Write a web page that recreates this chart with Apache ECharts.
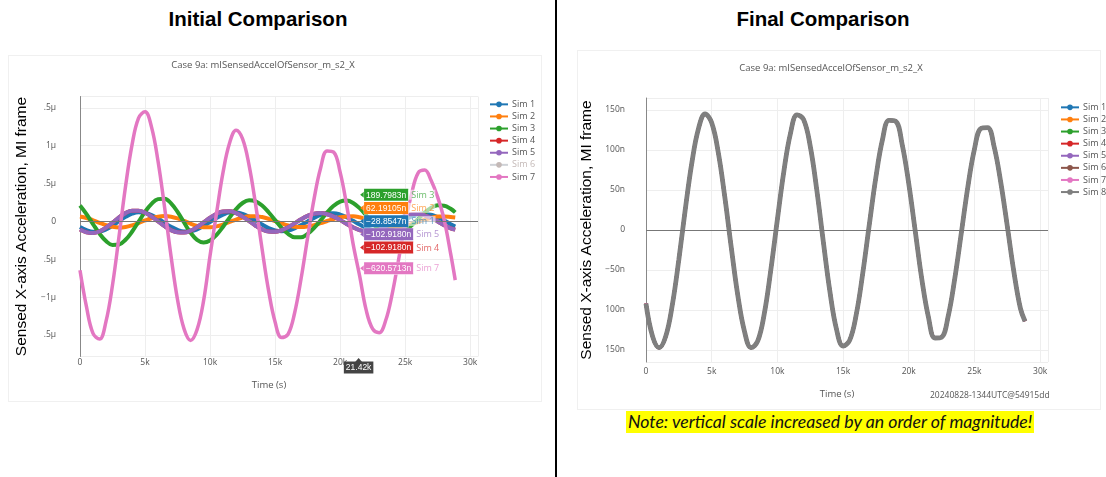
<!DOCTYPE html>
<html>
<head>
<meta charset="utf-8">
<title>Case 9a comparison</title>
<script src="https://cdn.jsdelivr.net/npm/echarts@6.0.0/dist/echarts.min.js"></script>
<style>
  body { margin: 0; background: #fff; }
  #page { position: relative; width: 1106px; height: 477px; overflow: hidden; }
  .head { position: absolute; top: 7px; width: 240px; text-align: center; color: #000;
          font: bold 20.5px "Liberation Sans", Arial, sans-serif; }
  #divider { position: absolute; left: 555px; top: 0; width: 2px; height: 477px; background: #000; }
  .card { position: absolute; border: 1px solid #f0f0f0; }
  #note { position: absolute; left: 626px; top: 411px; height: 22px; line-height: 22px; padding: 0 2px;
          background: #ffff00; color: #111; white-space: nowrap; font: italic 17.7px Lato, sans-serif; }
  .chart { position: absolute; top: 0; height: 477px; }
</style>
</head>
<body>
<div id="page">
  <div class="card" style="left:8px;top:55px;width:532px;height:345px"></div>
  <div class="card" style="left:577px;top:50px;width:522px;height:358px"></div>
  <div class="head" style="left:138px">Initial Comparison</div>
  <div class="head" style="left:703px">Final Comparison</div>
  <div id="divider"></div>
  <div id="note">Note: vertical scale increased by an order of magnitude!</div>
  <div id="initial" class="chart" style="left:0;width:556px"></div>
  <div id="final" class="chart" style="left:558px;width:548px"></div>
</div>
<script>
// time in s, accelerations in n (1e-9)
var times = [0, 500, 1000, 1500, 2000, 2500, 3000, 3500, 4000, 4500,
  5000, 5500, 6000, 6500, 7000, 7500, 8000, 8500, 9000, 9500,
  10000, 10500, 11000, 11500, 12000, 12500, 13000, 13500, 14000, 14500,
  15000, 15500, 16000, 16500, 17000, 17500, 18000, 18500, 19000, 19500,
  20000, 20500, 21000, 21500, 22000, 22500, 23000, 23500, 24000, 24500,
  25000, 25500, 26000, 26500, 27000, 27500, 28000, 28500, 28850];

var sim1Initial = [-75, -116, -138, -135, -106, -56, 3, 60, 102, 121,
  114, 84, 37, -18, -71, -112, -133, -131, -105, -61,
  -8, 46, 90, 116, 118, 99, 60, 11, -42, -88,
  -119, -130, -120, -91, -49, 0, 47, 85, 106, 108,
  90, 54, 7, -42, -85, -115, -125, -113, -79, -31,
  22, 67, 97, 105, 90, 57, 12, -37, -68];
var sim2Initial = [65, 45, 15, -19, -50, -72, -80, -73, -52, -22,
  12, 42, 63, 70, 62, 39, 6, -30, -59, -77,
  -79, -66, -41, -8, 24, 51, 67, 69, 57, 34,
  4, -27, -54, -71, -75, -67, -49, -23, 5, 32,
  54, 66, 67, 55, 32, 2, -28, -53, -68, -69,
  -57, -35, -5, 24, 48, 63, 64, 58, 52];
var sim3Initial = [210, 97, -35, -162, -260, -311, -305, -243, -137, -5,
  126, 232, 294, 300, 239, 125, -15, -149, -244, -278,
  -252, -178, -71, 50, 161, 243, 279, 265, 209, 121,
  17, -85, -165, -209, -209, -166, -86, 15, 118, 206,
  262, 275, 244, 175, 79, -24, -115, -178, -200, -181,
  -130, -53, 34, 116, 179, 212, 208, 166, 119];
var sim5Initial = [-108, -145, -154, -132, -82, -16, 53, 109, 141, 141,
  114, 64, 1, -63, -115, -145, -148, -123, -75, -14,
  48, 100, 130, 133, 109, 63, 4, -57, -106, -135,
  -138, -117, -78, -26, 28, 73, 103, 110, 95, 63,
  18, -33, -79, -115, -133, -131, -108, -67, -17, 32,
  72, 96, 98, 80, 44, -3, -51, -92, -109];
var sim4Initial = sim5Initial;   // same readout as Sim 5 at the hover, hidden under it
var sim6Initial = [];            // Sim 6 is switched off in the legend
var sim7Initial = [-645, -1130, -1480, -1555, -1320, -840, -200, 460, 1010, 1365,
  1448, 1245, 795, 190, -460, -1035, -1420, -1572, -1430, -1050,
  -450, 110, 650, 1035, 1205, 1090, 740, 225, -365, -915,
  -1330, -1535, -1490, -1210, -755, -215, 300, 705, 930, 915,
  650, 215, -300, -720, -1170, -1420, -1470, -1310, -960, -500,
  -30, 370, 640, 678, 540, 320, 20, -430, -776];

var simFinal = [-92, -133, -147, -133, -94, -37, 27, 85, 127, 145,
  134, 97, 41, -23, -83, -127, -147, -139, -105, -50,
  13, 74, 121, 144, 138, 105, 50, -15, -77, -124,
  -145, -138, -106, -54, 7, 66, 113, 137, 136, 107,
  58, -2, -62, -109, -135, -134, -108, -61, -4, 54,
  101, 127, 128, 104, 60, 5, -52, -98, -114];

var simNames = ['Sim 1', 'Sim 2', 'Sim 3', 'Sim 4', 'Sim 5', 'Sim 6', 'Sim 7', 'Sim 8'];
var simColors = ['#1f77b4', '#ff7f0e', '#2ca02c', '#d62728', '#9467bd', '#8c564b', '#e377c2', '#7f7f7f'];

var xTicks = [0, 5000, 10000, 15000, 20000, 25000, 30000];
var xTickText = ['0', '5k', '10k', '15k', '20k', '25k', '30k'];
var yTicksInitial = [1500, 1000, 500, 0, -500, -1000, -1500];
var yTextInitial = ['.5μ', '1μ', '.5μ', '0', '.5μ', '−1μ', '.5μ'];
var yTicksFinal = [150, 100, 50, 0, -50, -100, -150];
var yTextFinal = ['150n', '100n', '50n', '0', '−50n', '100n', '150n'];

var hoverTime = 21420;
var hoverNames = ['Sim 3', 'Sim 2', 'Sim 1', 'Sim 5', 'Sim 4', 'Sim 7'];
var hoverValues = [189.7983, 62.19105, -28.8547, -102.918, -102.918, -620.5713];
var hoverText = ['189.7983n', '62.19105n', '−28.8547n', '−102.9180n', '−102.9180n', '−620.5713n'];

var font = '"Open Sans", sans-serif';
var grey = '#555';

function pairs(vals) {
  return vals.map(function (v, i) { return [times[i], v]; });
}
function tickLabel(ticks, text) {
  return function (v) {
    var i = ticks.indexOf(v);
    return i < 0 ? '' : text[i];
  };
}
function colorOf(name) { return simColors[simNames.indexOf(name)]; }

function lineSeries(name, vals, width) {
  var c = colorOf(name);
  return {
    name: name, type: 'line', data: pairs(vals), smooth: 0.4,
    symbol: 'circle', symbolSize: 4, showSymbol: false, silent: true,
    itemStyle: { color: c }, lineStyle: { color: c, width: width }
  };
}
function zeroLine() {
  return {
    silent: true, symbol: 'none', label: { show: false },
    lineStyle: { color: '#777', width: 1, type: 'solid' }, data: [{ yAxis: 0 }]
  };
}

function chartOption(cfg) {
  return {
    animation: false,
    title: {
      text: 'Case 9a: mISensedAccelOfSensor_m_s2_X', left: cfg.titleX, top: cfg.titleY, textAlign: 'center',
      textStyle: { fontFamily: font, fontSize: 9.5, fontWeight: 'normal', color: grey }
    },
    grid: { left: cfg.grid[0], top: cfg.grid[1], width: cfg.grid[2], height: cfg.grid[3],
            containLabel: false, outerBoundsMode: 'none' },
    legend: {
      orient: 'vertical', left: cfg.legend[0], top: cfg.legend[1], padding: 0,
      itemWidth: 18, itemHeight: 7, itemGap: 0,
      data: cfg.legendNames, selected: cfg.selected || {}, inactiveColor: '#c4b9b7',
      textStyle: { fontFamily: font, fontSize: 9, color: grey, lineHeight: 12.1, padding: [0, 0, 0, -1] }
    },
    xAxis: {
      type: 'value', min: 0, max: 30600,
      name: 'Time (s)', nameLocation: 'middle', nameGap: cfg.xNameGap,
      nameTextStyle: { fontFamily: font, fontSize: 9.5, color: grey, padding: [0, 20, 0, 0] },
      axisLine: { show: false }, axisTick: { show: false },
      axisLabel: { formatter: tickLabel(xTicks, xTickText), fontFamily: font, fontSize: 8.5, color: grey, margin: cfg.xMargin },
      splitLine: { lineStyle: { color: '#eeeeee' } }
    },
    yAxis: {
      type: 'value', min: cfg.yRange[0], max: cfg.yRange[1],
      name: 'Sensed X-axis Acceleration, MI frame', nameLocation: 'middle', nameGap: cfg.yNameGap,
      nameTextStyle: { fontFamily: '"Liberation Sans", Arial, sans-serif', fontSize: 15.5, color: '#000' },
      axisLine: { show: true, lineStyle: { color: '#888' } }, axisTick: { show: false },
      axisLabel: { formatter: tickLabel(cfg.yTicks, cfg.yText), fontFamily: font, fontSize: 8.5, color: grey, margin: cfg.yMargin },
      splitLine: { lineStyle: { color: '#eeeeee' } }
    },
    series: cfg.series
  };
}

// ---- initial comparison ----
var initialSeries = [
  lineSeries('Sim 1', sim1Initial, 4),
  lineSeries('Sim 2', sim2Initial, 4),
  lineSeries('Sim 3', sim3Initial, 4),
  lineSeries('Sim 4', sim4Initial, 4),
  lineSeries('Sim 5', sim5Initial, 4),
  lineSeries('Sim 6', sim6Initial, 4),
  lineSeries('Sim 7', sim7Initial, 3.5)
];
initialSeries[0].markLine = zeroLine();
var yRangeInitial = [-1785, 1650];

var initialChart = echarts.init(document.getElementById('initial'));
initialChart.setOption(chartOption({
  titleX: 258, titleY: 55,
  grid: [80, 96.5, 398, 260],
  legend: [489, 98.3],
  legendNames: simNames.slice(0, 7),
  selected: { 'Sim 6': false },
  xNameGap: 24, xMargin: 2,
  yRange: yRangeInitial, yNameGap: 50, yMargin: 24,
  yTicks: yTicksInitial, yText: yTextInitial,
  series: initialSeries
}));

// hover labels at the cursor time, stacked the way plotly spreads them
var hx = initialChart.convertToPixel({ xAxisIndex: 0 }, hoverTime);
var gridBottom = initialChart.convertToPixel({ yAxisIndex: 0 }, yRangeInitial[0]);
var boxH = 13.2;
var groups = hoverValues.map(function (v, i) {
  var y = initialChart.convertToPixel({ yAxisIndex: 0 }, v);
  return { items: [{ i: i, y: y }], c: y };
});
var merged = true;
while (merged) {
  merged = false;
  for (var k = 0; k < groups.length - 1; k++) {
    var a = groups[k], b = groups[k + 1];
    if (a.c + a.items.length * boxH / 2 > b.c - b.items.length * boxH / 2) {
      var all = a.items.concat(b.items);
      var mean = all.reduce(function (s, it) { return s + it.y; }, 0) / all.length;
      groups.splice(k, 2, { items: all, c: mean });
      merged = true;
      break;
    }
  }
}
var hoverGraphic = [];
groups.forEach(function (g) {
  g.items.forEach(function (it, j) {
    var cy = g.c - (g.items.length - 1) * boxH / 2 + j * boxH;
    var col = colorOf(hoverNames[it.i]);
    hoverGraphic.push({
      type: 'polygon', silent: true, z: 100,
      shape: { points: [[hx + 1.5, cy], [hx + 6, cy - 3.5], [hx + 6, cy + 3.5]] },
      style: { fill: col }
    });
    hoverGraphic.push({
      type: 'text', x: hx + 5.5, y: cy, silent: true, z: 101,
      style: {
        text: '{v|' + hoverText[it.i] + '}{n|' + hoverNames[it.i] + '}',
        verticalAlign: 'middle',
        rich: {
          v: { fill: '#fff', backgroundColor: col, borderColor: 'rgba(255,255,255,0.7)', borderWidth: 0.5,
               padding: [2, 2, 1, 2], fontSize: 8.5, lineHeight: 9,
               fontFamily: '"Liberation Sans", Arial, sans-serif' },
          n: { fill: echarts.color.modifyAlpha(col, 0.7), backgroundColor: 'rgba(255,255,255,0.6)',
               padding: [1, 1, 0, 3], fontSize: 9, lineHeight: 9, fontFamily: font }
        }
      }
    });
  });
});
hoverGraphic.push({
  type: 'polygon', silent: true, z: 100,
  shape: { points: [[hx, gridBottom + 1.5], [hx - 3.5, gridBottom + 5.5], [hx + 3.5, gridBottom + 5.5]] },
  style: { fill: '#444' }
});
hoverGraphic.push({
  type: 'text', x: hx, y: gridBottom + 5, silent: true, z: 101,
  style: {
    text: '21.42k', align: 'center', verticalAlign: 'top', fill: '#fff', backgroundColor: '#444',
    padding: [2, 2, 1, 2], fontSize: 8.5, lineHeight: 9,
    fontFamily: '"Liberation Sans", Arial, sans-serif'
  }
});
initialChart.setOption({ graphic: hoverGraphic });

// ---- final comparison: every sim lands on the same trace, Sim 8 drawn last ----
var finalSeries = simNames.map(function (n) { return lineSeries(n, simFinal, n === 'Sim 8' ? 4.8 : 3.4); });
finalSeries[0].markLine = zeroLine();

var finalChart = echarts.init(document.getElementById('final'));
finalChart.setOption(chartOption({
  titleX: 268, titleY: 58,
  grid: [88, 98, 402, 264],
  legend: [502, 101.3],
  legendNames: simNames,
  xNameGap: 27, xMargin: 5,
  yRange: [-165, 165], yNameGap: 50, yMargin: 21,
  yTicks: yTicksFinal, yText: yTextFinal,
  series: finalSeries
}));
finalChart.setOption({
  graphic: [{
    type: 'text', x: 372, y: 396, silent: true,
    style: { text: '20240828-1344UTC@54915dd', fill: grey, fontSize: 8.5, fontFamily: font, verticalAlign: 'middle' }
  }]
});
</script>
</body>
</html>
